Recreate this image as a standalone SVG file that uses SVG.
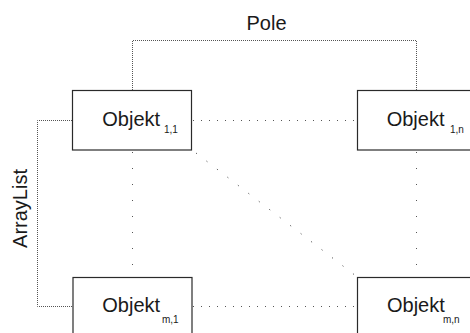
<svg xmlns="http://www.w3.org/2000/svg" width="470" height="333" viewBox="0 0 470 333">
  <style>
    .box { fill: #ffffff; stroke: #2a2a2a; stroke-width: 1.2; }
    .lbl { font-family: "Liberation Sans", Arial, sans-serif; font-size: 20px; fill: #1a1a1a; }
    .sub { font-family: "Liberation Sans", Arial, sans-serif; font-size: 10px; fill: #1a1a1a; }
    .fine { fill: none; stroke: #555; stroke-width: 1; stroke-dasharray: 1 1; }
    .sparse { fill: none; stroke: #555; stroke-width: 1; stroke-dasharray: 1 7; }
    .vsparse { fill: none; stroke: #555; stroke-width: 1; stroke-dasharray: 1 15; }
    .diag { fill: none; stroke: #555; stroke-width: 1; stroke-dasharray: 1.2 12; }
  </style>

  <rect width="470" height="333" fill="#ffffff"/>

  <g id="connectors">
    <!-- Pole bracket over the first row -->
    <path class="fine" d="M132.5 90 V40.5 H416.5 V90"/>
    <!-- ArrayList bracket along the first column -->
    <path class="fine" d="M72 120.5 H37.5 V306.5 H72"/>
    <!-- row links -->
    <line class="sparse" x1="193" y1="120.5" x2="357" y2="120.5"/>
    <line class="sparse" x1="193" y1="306.5" x2="357" y2="306.5"/>
    <!-- column links -->
    <line class="vsparse" x1="132.5" y1="152" x2="132.5" y2="277"/>
    <line class="vsparse" x1="416.5" y1="152" x2="416.5" y2="277"/>
    <!-- diagonal link -->
    <line class="diag" x1="196" y1="153" x2="356" y2="276"/>
  </g>

  <g id="labels">
    <text class="lbl" x="266.5" y="30" text-anchor="middle">Pole</text>
    <text class="lbl" transform="translate(27 208.5) rotate(-90)" text-anchor="middle">ArrayList</text>
  </g>

  <g id="objekt-1-1">
    <rect class="box" x="72.5" y="90.5" width="119" height="59.5"/>
    <text class="lbl" x="102.3" y="126">Objekt</text>
    <text class="sub" x="164" y="133">1,1</text>
  </g>

  <g id="objekt-1-n">
    <rect class="box" x="357.5" y="90.5" width="119" height="59.5"/>
    <text class="lbl" x="386.7" y="126">Objekt</text>
    <text class="sub" x="450" y="133">1,n</text>
  </g>

  <g id="objekt-m-1">
    <rect class="box" x="73" y="277.5" width="119" height="59.5"/>
    <text class="lbl" x="102.3" y="312">Objekt</text>
    <text class="sub" x="162" y="323">m,1</text>
  </g>

  <g id="objekt-m-n">
    <rect class="box" x="357.5" y="277.5" width="119" height="59.5"/>
    <text class="lbl" x="387" y="312">Objekt</text>
    <text class="sub" x="443" y="323">m,n</text>
  </g>
</svg>
